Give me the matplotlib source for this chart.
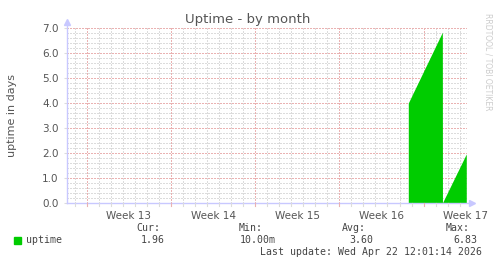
import numpy as np
import matplotlib
matplotlib.use("Agg")
import matplotlib.pyplot as plt
from matplotlib.ticker import FixedLocator

# Data: days relative to Monday of week 13
day = [26.73, 29.56, 29.57, 31.55]
uptime = [4.0, 6.83, 0.0069, 1.96]

week_labels = ["Week 13", "Week 14", "Week 15", "Week 16", "Week 17"]
week_starts = [0, 7, 14, 21, 28]

stats_names = ["Cur:", "Min:", "Avg:", "Max:"]
stats_values = ["1.96", "10.00m", "3.60", "6.83"]
last_update = "Last update: Wed Apr 22 12:01:14 2026"

W, H = 497, 264
GREEN = "#00cc00"
MGRID = "#eab2b2"
GRID = "#dcdcdc"
AXIS = "#c8c8ff"
TXT = "#555555"

fig = plt.figure(figsize=(W / 100, H / 100), dpi=100, facecolor="white")
ax = fig.add_axes([67 / W, 61 / H, 400 / W, 175 / H])
ax.set_facecolor("white")

ax.fill_between(day, uptime, 0, color=GREEN, linewidth=0, zorder=3)

ax.set_xlim(-1.64, 31.61)
ax.set_ylim(0, 7)

# grid
dot = (0, (1, 1))
for d in np.arange(-1, 32):
    if d % 7 == 0:
        continue
    ax.axvline(d, color=GRID, lw=0.8, ls=dot, zorder=1, antialiased=False)
for v in np.arange(0.2, 7.0, 0.2):
    if abs(v - round(v)) < 1e-6:
        continue
    ax.axhline(v, color=GRID, lw=0.8, ls=dot, zorder=1, antialiased=False)
for d in week_starts:
    ax.axvline(d, color=MGRID, lw=0.8, ls=dot, zorder=2, antialiased=False)
for v in range(1, 8):
    ax.axhline(v, color=MGRID, lw=0.8, ls=dot, zorder=2, antialiased=False)

for s in ax.spines.values():
    s.set_visible(False)

# axes with arrows
ax.plot([0, 1.01], [0, 0], transform=ax.transAxes, color=AXIS, lw=1,
        clip_on=False, zorder=4)
ax.plot([0, 0], [0, 1.03], transform=ax.transAxes, color=AXIS, lw=1,
        clip_on=False, zorder=4)
ax.plot([1.012], [0], transform=ax.transAxes, marker=">", color=AXIS,
        ms=4, clip_on=False, zorder=4)
ax.plot([0], [1.035], transform=ax.transAxes, marker="^", color=AXIS,
        ms=4, clip_on=False, zorder=4)

ax.set_yticks(range(0, 8))
ax.set_yticklabels([f"{v:.1f}" for v in range(0, 8)], color=TXT, fontsize=7.5)
ax.tick_params(axis="y", length=2, color=GRID, pad=4)

ax.xaxis.set_major_locator(FixedLocator([d + 3.5 for d in week_starts]))
ax.set_xticklabels(week_labels, color=TXT, fontsize=7.5)
ax.tick_params(axis="x", length=0, pad=6)
for d in np.arange(-1, 32):
    c = MGRID if d % 7 == 0 else GRID
    ax.plot([d, d], [0, -0.1], color=c, lw=0.8, clip_on=False, zorder=4)

ax.set_ylabel("uptime in days", color=TXT, fontsize=8, labelpad=18)

fig.text(248 / W, 1 - 19 / H, "Uptime - by month", ha="center", va="center",
         color=TXT, fontsize=9.5)
fig.text(488 / W, 1 - 62 / H, "RRDTOOL / TOBI OETIKER", ha="center",
         va="center", rotation=-90, color="#cccccc", fontsize=5.5)

mono = "DejaVu Sans Mono"
fs = 7.1
fig.patches.append(plt.Rectangle((14 / W, 1 - 243.5 / H), 7 / W, 7 / H,
                                 transform=fig.transFigure, color=GREEN))
fig.text(26 / W, 1 - 240 / H, "uptime", family=mono, fontsize=fs,
         color="#444444", va="center")
head_right = [160, 263, 366, 470]
val_right = [165, 276, 373, 477]
for name, val, hr, vr in zip(stats_names, stats_values, head_right, val_right):
    fig.text(hr / W, 1 - 228 / H, name, family=mono, fontsize=fs,
             color="#444444", va="center", ha="right")
    fig.text(vr / W, 1 - 240 / H, val, family=mono, fontsize=fs,
             color="#444444", va="center", ha="right")
fig.text(482 / W, 1 - 252 / H, last_update, family=mono, fontsize=fs,
         color="#444444", va="center", ha="right")

fig.savefig("out.png", dpi=100, facecolor="white")
